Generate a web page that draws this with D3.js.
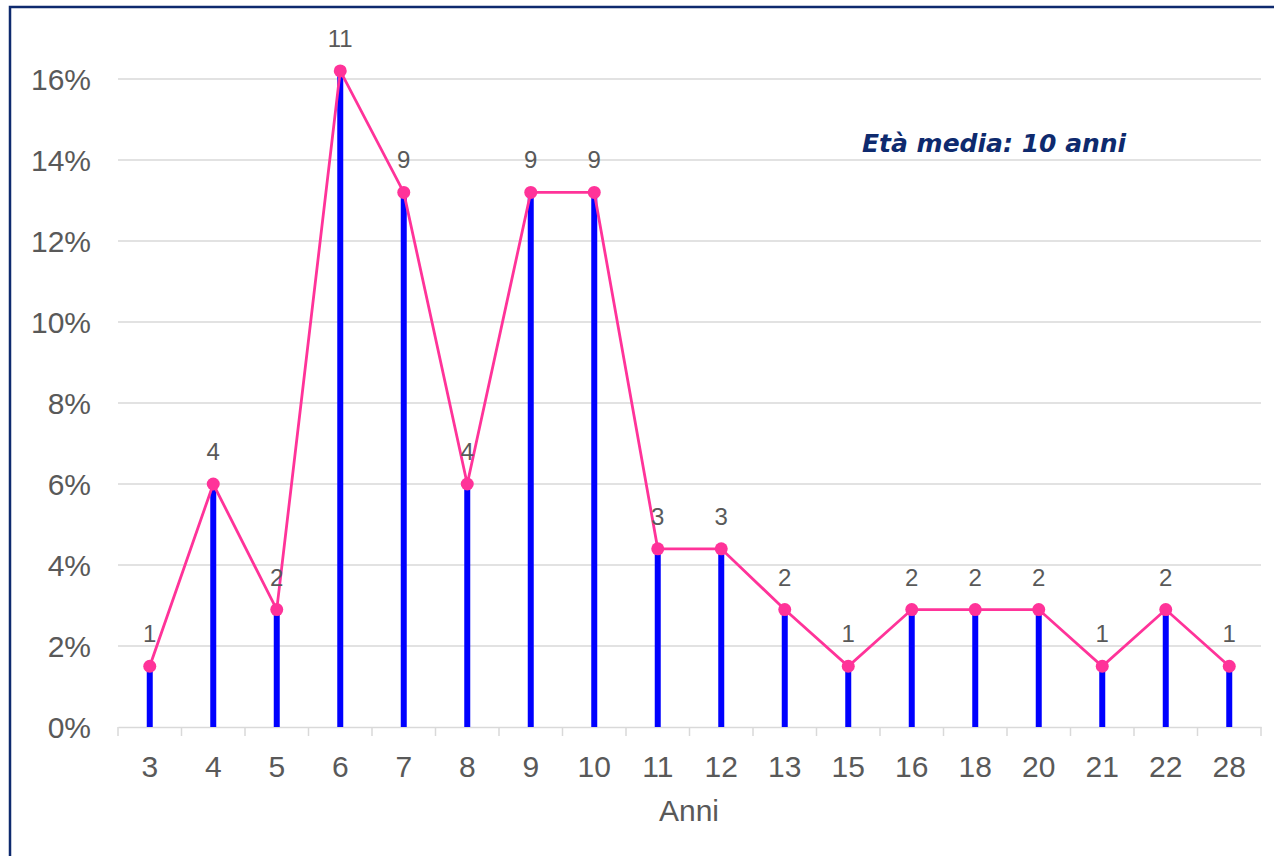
<!DOCTYPE html>
<html><head><meta charset="utf-8">
<script src="https://cdn.jsdelivr.net/npm/d3@7"></script>
<style>
html,body{margin:0;padding:0;background:#fff;}
svg{display:block;font-family:"Liberation Sans",Arial,sans-serif;}
</style></head>
<body>
<svg id="chart" width="1274" height="856"></svg>
<script>
const categories = ["3","4","5","6","7","8","9","10","11","12","13","15","16","18","20","21","22","28"];
const counts = [1,4,2,11,9,4,9,9,3,3,2,1,2,2,2,1,2,1];
const percents = [1.5,6.0,2.9,16.2,13.2,6.0,13.2,13.2,4.4,4.4,2.9,1.5,2.9,2.9,2.9,1.5,2.9,1.5];
const yTicks = [0,2,4,6,8,10,12,14,16];
const xTitle = "Anni";
const note = "Età media: 10 anni";

const svg = d3.select("#chart");
const W = 1274, H = 856;

// frame
svg.append("rect").attr("x",10).attr("y",7).attr("width",W+10).attr("height",H+10)
  .attr("fill","none").attr("stroke","#0e2a6e").attr("stroke-width",2.5);

const x = d3.scaleBand().domain(categories).range([118,1261]).padding(0);
const y = d3.scaleLinear().domain([0,16]).range([727,79]);

// gridlines
svg.append("g").selectAll("line").data(yTicks.filter(d=>d>0)).join("line")
  .attr("x1",118).attr("x2",1261).attr("y1",d=>y(d)).attr("y2",d=>y(d))
  .attr("stroke","#d9d9d9").attr("stroke-width",1.5);

// y labels
svg.append("g").selectAll("text").data(yTicks).join("text")
  .attr("x",91).attr("y",d=>y(d)).attr("dy","0.36em").attr("text-anchor","end")
  .attr("font-size",30).attr("fill","#595959").text(d=>d+"%");

// x axis
const xAxis = d3.axisBottom(x).tickSize(0).tickPadding(0);
const gx = svg.append("g").attr("transform","translate(0,727)").call(xAxis);
gx.select(".domain").attr("stroke","#d9d9d9").attr("stroke-width",1.5);
gx.selectAll("text").attr("dy",null).attr("y",50).attr("font-size",30).attr("fill","#595959")
  .attr("font-family","Liberation Sans, Arial, sans-serif");
// boundary ticks
const bounds = categories.map(c=>x(c)).concat([x(categories[categories.length-1])+x.bandwidth()]);
svg.append("g").selectAll("line").data(bounds).join("line")
  .attr("x1",d=>d).attr("x2",d=>d).attr("y1",727).attr("y2",736)
  .attr("stroke","#d9d9d9").attr("stroke-width",1.5);

svg.append("text").attr("x",689).attr("y",821).attr("text-anchor","middle")
  .attr("font-size",30).attr("fill","#595959").text(xTitle);

const cx = c => x(c) + x.bandwidth()/2;

// bars
svg.append("g").selectAll("line").data(categories).join("line")
  .attr("x1",c=>cx(c)).attr("x2",c=>cx(c))
  .attr("y1",727).attr("y2",(c,i)=>y(percents[i]))
  .attr("stroke","#0000ff").attr("stroke-width",6);

// line
const line = d3.line().x((d,i)=>cx(categories[i])).y(d=>y(d));
svg.append("path").datum(percents).attr("d",line)
  .attr("fill","none").attr("stroke","#ff3399").attr("stroke-width",2.8);

svg.append("g").selectAll("circle").data(percents).join("circle")
  .attr("cx",(d,i)=>cx(categories[i])).attr("cy",d=>y(d)).attr("r",6.5)
  .attr("fill","#ff3399");

// data labels
svg.append("g").selectAll("text").data(counts).join("text")
  .attr("x",(d,i)=>cx(categories[i])).attr("y",(d,i)=>y(percents[i])-24)
  .attr("text-anchor","middle").attr("font-size",24).attr("fill","#595959")
  .text(d=>d);

// note
svg.append("text").attr("x",862).attr("y",152)
  .attr("font-family","'DejaVu Sans',sans-serif").attr("font-weight","bold").attr("font-style","italic")
  .attr("font-size",25).attr("fill","#0e2a6e").text(note);
</script>
</body></html>
